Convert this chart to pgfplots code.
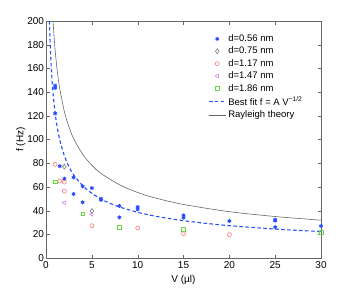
\documentclass[border=0pt]{standalone}
\usepackage{fontspec}
\setmainfont{Liberation Sans}
\usepackage{pgfplots}
\pgfplotsset{compat=1.18}
\definecolor{mblue}{rgb}{0.15,0.3,1}
\definecolor{mred}{rgb}{1,0.4,0.4}
\definecolor{mmag}{rgb}{0.78,0.45,0.92}
\definecolor{mgreen}{rgb}{0.4,0.85,0.25}
\definecolor{mgray}{rgb}{0.4,0.4,0.4}
\begin{document}
\begin{tikzpicture}[font=\fontsize{10}{12}\selectfont]
\useasboundingbox (-46pt,-35pt) rectangle (309pt,258pt);
\begin{axis}[
  at={(0,0)}, anchor=south west,
  scale only axis, width=275pt, height=237pt,
  xmin=0, xmax=30, ymin=0, ymax=200,
  xtick={0,5,...,30}, ytick={0,20,...,200},
  tick align=inside, major tick length=3.5pt,
  axis line style={mgray}, tick style={mgray},
  /pgf/number format/assume math mode=true,
  ticklabel style={font=\fontsize{10}{12}\selectfont},
  yticklabel style={xshift=1.5pt},
  xlabel={V (µl)}, ylabel={f (Hz)},
  ylabel style={yshift=-5pt},
  label style={font=\fontsize{10}{12}\selectfont},
  legend style={draw=none, fill=none, at={(0.578,0.96)}, anchor=north west,
    font=\fontsize{9.5}{11.5}\selectfont, row sep=0pt},
  legend cell align=left,
]
\addplot[only marks, mark=asterisk, mblue, mark size=2pt, line width=1pt] coordinates {
(1,145.5)(1,143.5)(1,122)(1.5,77.5)(2,67)(3,68)(3,54)(4,60.5)(4,47)(5,59)
(6,50)(6,49)(8,44)(8,34.3)(10,43)(10,41)(15,36)(15,34)(20,31.2)(25,32.4)(25,31.5)(25,26)(30,27)};
\addlegendentry{d=0.56 nm}
\addplot[only marks, mark=diamond, mgray, mark size=2.4pt, line width=0.5pt] coordinates {
(2,77)(5,39.7)};
\addlegendentry{d=0.75 nm}
\addplot[only marks, mark=o, mred, mark size=2pt, line width=0.5pt] coordinates {
(1,79)(1.5,65)(2,64)(2,56.5)(5,27.3)(10,25.3)(15,20.5)(20,19.7)};
\addlegendentry{d=1.17 nm}
\addplot[only marks, mark=triangle, mmag, mark size=2.2pt, line width=0.5pt, mark options={rotate=90}] coordinates {
(2,46.7)(5,36.8)};
\addlegendentry{d=1.47 nm}
\addplot[only marks, mark=square, mgreen, mark size=1.8pt, line width=0.5pt] coordinates {
(1,64.5)(4,37.5)(8,26.2)(15,24.5)(30,21.7)};
\addlegendentry{d=1.86 nm}
\addplot[mblue, line width=1.1pt, dash pattern=on 3.5pt off 2.5pt, smooth] coordinates {
(0.372,200)(0.4,192.9)(0.5,172.5)(0.6,157.5)(0.75,140.9)(1,122)(1.25,109.1)(1.5,99.6)
(2,86.3)(2.5,77.2)(3,70.4)(4,61)(5,54.6)(6,49.8)(7,46.1)(8,43.1)(10,38.6)(12,35.2)
(15,31.5)(18,28.8)(20,27.3)(25,24.4)(30,22.3)};
\addlegendentry{Best fit f = A V\textsuperscript{−1/2}}
\addplot[mgray, line width=0.6pt, smooth] coordinates {
(0.766,200)(0.8,195.7)(1,175)(1.25,156.5)(1.5,142.9)(2,123.7)(2.5,110.7)(3,101)
(4,87.5)(5,78.3)(6,71.4)(8,61.9)(10,55.3)(12,50.5)(15,45.2)(20,39.1)(25,35)(30,31.9)};
\addlegendentry{Rayleigh theory}
\end{axis}
\end{tikzpicture}
\end{document}
